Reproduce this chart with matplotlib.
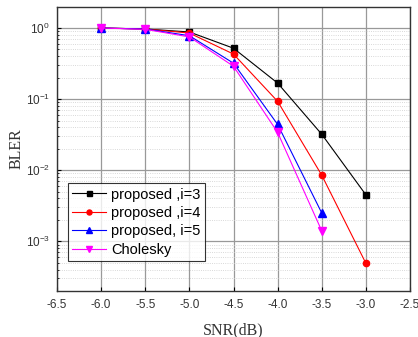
import matplotlib
matplotlib.use("Agg")
import matplotlib.pyplot as plt
from matplotlib.ticker import LogLocator, NullFormatter, FixedLocator

snr = [-6.0, -5.5, -5.0, -4.5, -4.0, -3.5, -3.0]
snr_short = [-6.0, -5.5, -5.0, -4.5, -4.0, -3.5]
bler_i3 = [1.0, 0.97, 0.88, 0.52, 0.168, 0.032, 0.0045]
bler_i4 = [1.0, 0.97, 0.85, 0.43, 0.093, 0.0085, 0.00049]
bler_i5 = [1.0, 0.97, 0.78, 0.32, 0.044, 0.0025]
bler_chol = [1.0, 0.96, 0.75, 0.29, 0.034, 0.0014]
labels = ["proposed ,i=3", "proposed ,i=4", "proposed, i=5", "Cholesky"]
xticks = [-6.5, -6.0, -5.5, -5.0, -4.5, -4.0, -3.5, -3.0, -2.5]

fig = plt.figure(figsize=(4.18, 3.37), dpi=100)
ax = fig.add_axes([57/418, 46/337, 353/418, 284/337])

sans = "Liberation Sans"
serif = "Liberation Serif"

ax.plot(snr, bler_i3, color="black", marker="s", ms=4.5, lw=0.8, label=labels[0])
ax.plot(snr, bler_i4, color="red", marker="o", ms=4.5, lw=0.8, label=labels[1])
ax.plot(snr_short, bler_i5, color="blue", marker="^", ms=5.5, lw=0.8, label=labels[2])
ax.plot(snr_short, bler_chol, color="magenta", marker="v", ms=5.5, lw=0.8, label=labels[3])

ax.set_yscale("log")
ax.set_xlim(-6.5, -2.5)
ax.set_ylim(10**-3.70, 10**0.296)
ax.set_xticks(xticks)
ax.set_xticklabels([f"{t:.1f}" for t in xticks], fontfamily=sans, fontsize=8.5, color="#333333")
ax.yaxis.set_major_locator(FixedLocator([1e-3, 1e-2, 1e-1, 1e0]))
ax.yaxis.set_minor_locator(LogLocator(base=10, subs=range(2, 10), numticks=20))
ax.yaxis.set_minor_formatter(NullFormatter())
for lab in ax.get_yticklabels():
    lab.set_fontfamily(sans)
    lab.set_fontsize(8.5)
    lab.set_color("#333333")

ax.grid(True, which="major", color="#999999", lw=0.9, ls="-")
ax.grid(True, which="minor", axis="y", color="#cccccc", lw=0.6, ls=":")
ax.tick_params(which="both", direction="in", length=3)
ax.tick_params(axis="x", pad=6)
ax.tick_params(axis="y", pad=5)
ax.tick_params(which="minor", length=1.5)
for s in ax.spines.values():
    s.set_color("#333333")
    s.set_linewidth(1.0)
ax.set_axisbelow(True)

ax.set_xlabel("SNR(dB)", fontfamily=serif, fontsize=11.5, color="#333333", labelpad=8)
ax.set_ylabel("BLER", fontfamily=serif, fontsize=11.5, color="#333333", labelpad=1)

leg = ax.legend(loc="lower left", bbox_to_anchor=(11/353, 30/284), prop={"family": sans, "size": 10.5},
                frameon=True, fancybox=False, edgecolor="black", handlelength=2.3,
                borderpad=0.3, labelspacing=0.3, handletextpad=0.35, borderaxespad=0,
                markerscale=0.8)
leg.get_frame().set_linewidth(0.8)

fig.savefig("out.png", dpi=100)
